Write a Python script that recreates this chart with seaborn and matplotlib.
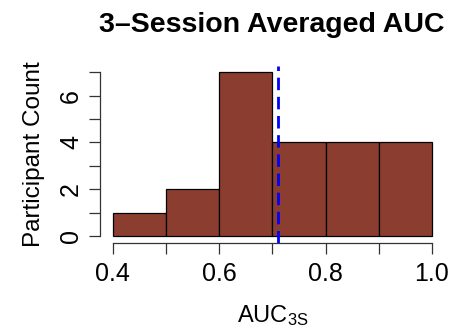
import matplotlib
matplotlib.use("Agg")
import matplotlib.pyplot as plt
import seaborn as sns
import numpy as np

# Histogram of 3-session averaged AUC per participant
bin_edges = [0.4, 0.5, 0.6, 0.7, 0.8, 0.9, 1.0]
counts = [1, 2, 7, 4, 4, 4]
mean_auc = 0.711

x_ticks = [0.4, 0.5, 0.6, 0.7, 0.8, 0.9, 1.0]
x_tick_labels = ["0.4", "", "0.6", "", "0.8", "", "1.0"]
y_ticks = [0, 1, 2, 3, 4, 5, 6, 7]
y_tick_labels = ["0", "", "2", "", "4", "", "6", ""]

sns.set_style("white")
plt.rcParams["font.family"] = ["Liberation Sans", "DejaVu Sans"]
plt.rcParams["mathtext.default"] = "regular"
for key in ["text.color", "axes.labelcolor", "xtick.color", "ytick.color"]:
    plt.rcParams[key] = "black"

fig = plt.figure(figsize=(4.52, 3.28), dpi=100)
ax = fig.add_axes([0.221, 0.260, 0.763, 0.540])

centers = [(a + b) / 2 for a, b in zip(bin_edges[:-1], bin_edges[1:])]
sns.histplot(x=centers, weights=counts, bins=bin_edges, ax=ax,
             color="#8B3E2F", edgecolor="black", linewidth=0.9, alpha=1.0)

ax.axvline(mean_auc, color="#0000FF", linewidth=2.0, linestyle=(0, (4.5, 2.4)))

ax.set_xlim(0.376, 1.024)
ax.set_ylim(-0.28, 7.28)

for s in ["top", "right"]:
    ax.spines[s].set_visible(False)
for s in ["left", "bottom"]:
    ax.spines[s].set_color("#333333")
    ax.spines[s].set_linewidth(0.9)
ax.spines["left"].set_bounds(0, 7)
ax.spines["bottom"].set_bounds(0.4, 1.0)

ax.set_xticks(x_ticks)
ax.set_xticklabels(x_tick_labels)
ax.set_yticks(y_ticks)
ax.set_yticklabels(y_tick_labels, rotation=90, va="center")
ax.tick_params(axis="both", which="major", length=8, width=0.9, color="#333333",
               labelsize=18, direction="out", bottom=True, left=True)
ax.tick_params(axis="x", pad=6)
ax.tick_params(axis="y", pad=4)

ax.set_xlabel(r"AUC$_{3S}$", fontsize=17, labelpad=12)
ax.set_ylabel("Participant Count", fontsize=17.5, labelpad=10)
fig.text(0.602, 0.925, "3\u2013Session Averaged AUC", ha="center", va="center",
         fontsize=20.5, fontweight="bold")

fig.savefig("out.png", dpi=100)
